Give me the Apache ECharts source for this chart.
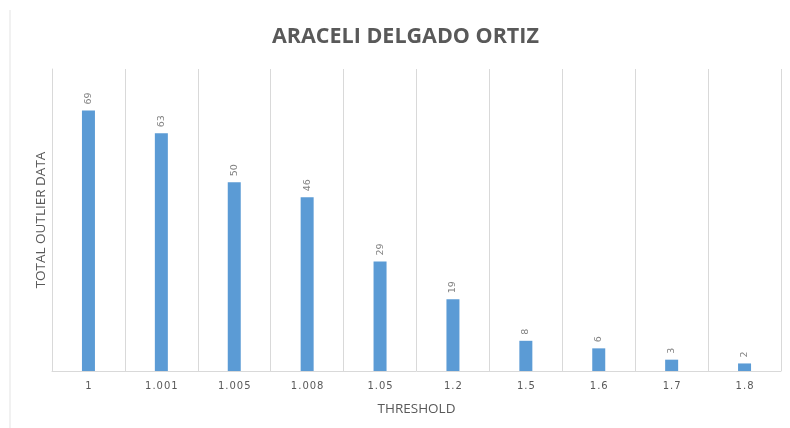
<!DOCTYPE html>
<html>
<head>
<meta charset="utf-8">
<script src="https://cdn.jsdelivr.net/npm/echarts@6/dist/echarts.min.js"></script>
<style>
  html, body { margin: 0; padding: 0; background: #ffffff; }
  #main { width: 790px; height: 428px; }
</style>
</head>
<body>
<div id="main"></div>
<script>
// thresholds on the x axis
var thresholds = ['1', '1.001', '1.005', '1.008', '1.05', '1.2', '1.5', '1.6', '1.7', '1.8'];
// total outliers per threshold
var outlierCounts = [69, 63, 50, 46, 29, 19, 8, 6, 3, 2];

var chart = echarts.init(document.getElementById('main'), null, { renderer: 'canvas' });

var option = {
  backgroundColor: '#ffffff',
  animation: false,
  title: {
    text: 'ARACELI DELGADO ORTIZ',
    left: 267,
    top: 21,
    textStyle: {
      fontFamily: 'Open Sans',
      fontWeight: 'bold',
      fontSize: 21.5,
      color: '#595959'
    }
  },
  graphic: [{
    type: 'line',
    shape: { x1: 10, y1: 10, x2: 10, y2: 428 },
    style: { stroke: '#e3e3e3', lineWidth: 1 }
  }],
  grid: { left: 52, right: 9, top: 69, bottom: 57 },
  xAxis: {
    type: 'category',
    data: thresholds,
    name: 'THRESHOLD',
    nameLocation: 'middle',
    nameGap: 31,
    nameTextStyle: { fontFamily: 'Open Sans', fontSize: 13.5, color: '#595959' },
    axisLine: { lineStyle: { color: '#d9d9d9', width: 1 } },
    axisTick: { show: false },
    axisLabel: {
      margin: 10,
      fontFamily: 'DejaVu Sans',
      fontSize: 10,
      color: '#595959',
      formatter: function (v) { return v.split('').join('\u200a'); }
    },
    splitLine: { show: true, lineStyle: { color: '#d9d9d9', width: 1 } }
  },
  yAxis: {
    type: 'value',
    min: 0,
    max: 80,
    interval: 10,
    name: 'TOTAL OUTLIER DATA',
    nameLocation: 'middle',
    nameGap: 4,
    nameTextStyle: { fontFamily: 'Open Sans', fontSize: 13.5, color: '#595959' },
    axisLine: { show: true, lineStyle: { color: '#d9d9d9' } },
    axisTick: { show: false },
    axisLabel: { show: false },
    splitLine: { show: false }
  },
  series: [{
    type: 'bar',
    data: outlierCounts,
    barWidth: 13,
    itemStyle: { color: '#5b9bd5' },
    label: {
      show: true,
      position: 'top',
      distance: 6,
      rotate: 90,
      align: 'left',
      verticalAlign: 'middle',
      fontFamily: 'DejaVu Sans',
      fontSize: 9.5,
      color: '#7f7f7f'
    }
  }]
};

chart.setOption(option);
</script>
</body>
</html>
